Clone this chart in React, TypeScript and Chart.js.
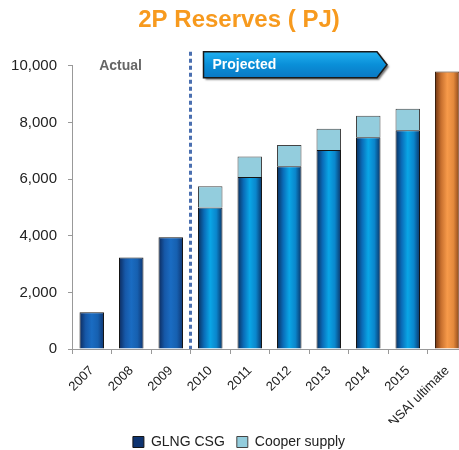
import React, { useEffect, useRef } from "react";
import { Chart, registerables } from "chart.js";
Chart.register(...registerables);

const categories = ["2007", "2008", "2009", "2010", "2011", "2012", "2013", "2014", "2015", "NSAI ultimate"];
const glngCsg = [1300, 3230, 3950, 5000, 6070, 6450, 7030, 7480, 7720, null];
const cooperSupply = [null, null, null, 750, 730, 750, 750, 760, 760, null];
const nsaiUltimate = [null, null, null, null, null, null, null, null, null, 9800];
const yTickValues = [0, 2000, 4000, 6000, 8000, 10000];
const actualYears = 3;
const titleText = "2P Reserves ( PJ)";

const FONT = "'Liberation Sans', Arial, Helvetica, sans-serif";
const BAR_FRACTION = 0.62;

function gradientFor(ctx: any, stops: string[], fallback: string) {
  if (ctx.type !== "data" || ctx.dataIndex === undefined) return fallback;
  const chart = ctx.chart;
  const xs = chart.scales && chart.scales.x;
  if (!xs || !chart.chartArea) return fallback;
  const c = xs.getPixelForValue(ctx.dataIndex);
  const w = (xs.width / categories.length) * BAR_FRACTION;
  const g = chart.ctx.createLinearGradient(c - w / 2, 0, c + w / 2, 0);
  stops.forEach((s, i) => g.addColorStop(i / (stops.length - 1), s));
  return g;
}

const actualStops = ["#0c2a5c", "#1658a8", "#1a6cc2", "#1660b0", "#0e3470"];
const projStops = ["#0a2f5e", "#0a6cb8", "#0aa6e6", "#0a86cc", "#0a3468"];
const orangeStops = ["#6e3412", "#c8702e", "#f79a4a", "#e58a3c", "#8a4418"];

const annotations = {
  id: "annotations",
  afterDraw(chart: any) {
    const { ctx, chartArea, scales } = chart;
    const xs = scales.x;
    const ys = scales.y;
    const step = xs.width / categories.length;
    const divX = xs.getPixelForValue(actualYears - 1) + step / 2;
    ctx.save();
    // dashed divider
    ctx.strokeStyle = "#4a6fb0";
    ctx.lineWidth = 3;
    ctx.setLineDash([4, 3]);
    ctx.beginPath();
    ctx.moveTo(divX, chartArea.top - 14);
    ctx.lineTo(divX, ys.getPixelForValue(0));
    ctx.stroke();
    ctx.setLineDash([]);
    // Actual label
    ctx.fillStyle = "#666666";
    ctx.font = "bold 14px " + FONT;
    ctx.textAlign = "center";
    ctx.textBaseline = "middle";
    ctx.fillText("Actual", xs.getPixelForValue(0.73), chartArea.top);
    // Projected arrow
    const x0 = divX + 13;
    const tip = xs.getPixelForValue(7) + step / 2 - 1;
    const x1 = tip - 10;
    const yT = chartArea.top - 14;
    const yB = chartArea.top + 12;
    const path = () => {
      ctx.beginPath();
      ctx.moveTo(x0, yT);
      ctx.lineTo(x1, yT);
      ctx.lineTo(tip, (yT + yB) / 2);
      ctx.lineTo(x1, yB);
      ctx.lineTo(x0, yB);
      ctx.closePath();
    };
    ctx.shadowColor = "rgba(0,0,0,0.55)";
    ctx.shadowOffsetX = 2;
    ctx.shadowOffsetY = 2;
    ctx.shadowBlur = 2;
    const g = ctx.createLinearGradient(0, yT, 0, yB);
    g.addColorStop(0, "#21b0f0");
    g.addColorStop(0.5, "#0a8fd8");
    g.addColorStop(1, "#0a78c4");
    ctx.fillStyle = g;
    path();
    ctx.fill();
    ctx.shadowColor = "transparent";
    ctx.strokeStyle = "#1a1a1a";
    ctx.lineWidth = 1.5;
    path();
    ctx.stroke();
    ctx.fillStyle = "#ffffff";
    ctx.font = "bold 14px " + FONT;
    ctx.textAlign = "left";
    ctx.fillText("Projected", x0 + 9, (yT + yB) / 2);
    ctx.restore();
  },
};

export default function App() {
  const ref = useRef<HTMLCanvasElement | null>(null);
  useEffect(() => {
    if (!ref.current) return;
    const chart = new Chart(ref.current, {
      type: "bar",
      data: {
        labels: categories,
        datasets: [
          {
            label: "GLNG CSG",
            data: glngCsg,
            backgroundColor: (ctx: any) =>
              gradientFor(ctx, ctx.dataIndex < actualYears ? actualStops : projStops, "#1a62b5"),
            borderColor: "#151515",
            borderWidth: 1,
            stack: "s",
          },
          {
            label: "Cooper supply",
            data: cooperSupply,
            backgroundColor: "#93cddd",
            borderColor: "#444444",
            borderWidth: 1,
            stack: "s",
          },
          {
            label: "NSAI ultimate",
            data: nsaiUltimate,
            backgroundColor: (ctx: any) => gradientFor(ctx, orangeStops, "#f08a3a"),
            borderColor: "#3a2010",
            borderWidth: 1,
            stack: "s",
          },
        ],
      },
      options: {
        responsive: false,
        animation: false,
        layout: { padding: { left: 11, right: 0, top: 0, bottom: 2 } },
        datasets: { bar: { categoryPercentage: BAR_FRACTION, barPercentage: 1 } },
        scales: {
          x: {
            stacked: true,
            afterFit: (scale: any) => {
              scale.paddingLeft = 0;
              scale.paddingRight = 0;
              scale.height = 74;
            },
            grid: { display: true, drawOnChartArea: false, drawTicks: true, tickLength: 5, color: "#999999" },
            border: { display: true, color: "#999999" },
            ticks: {
              color: "#222222",
              font: { size: 13, family: FONT },
              maxRotation: 45,
              minRotation: 45,
              padding: 9,
            },
          },
          y: {
            stacked: true,
            min: 0,
            max: 10000,
            afterBuildTicks: (scale: any) => {
              scale.ticks = yTickValues.map((v) => ({ value: v }));
            },
            afterFit: (scale: any) => {
              scale.width = 61;
            },
            grid: { display: true, drawOnChartArea: false, drawTicks: true, tickLength: 4, color: "#999999" },
            border: { display: true, color: "#999999" },
            ticks: {
              color: "#222222",
              font: { size: 15, family: FONT },
              padding: 11,
              callback: (v: any) => Number(v).toLocaleString("en-US"),
            },
          },
        },
        plugins: {
          title: {
            display: true,
            text: titleText,
            color: "#f79a1e",
            font: { size: 24, weight: "bold", family: FONT },
            padding: { top: 6, bottom: 31 },
          },
          legend: {
            position: "bottom",
            labels: {
              filter: (item: any) => item.text !== "NSAI ultimate",
              boxWidth: 11,
              boxHeight: 11,
              color: "#222222",
              font: { size: 14, family: FONT },
              padding: 12,
            },
          },
          tooltip: { enabled: false },
        },
      },
      plugins: [annotations],
    } as any);
    return () => chart.destroy();
  }, []);
  return (
    <div style={{ position: "absolute", left: 0, top: 0, width: 459, height: 450, overflow: "hidden", background: "#fff" }}>
      <canvas ref={ref} width={467} height={461} style={{ display: "block" }} />
    </div>
  );
}
